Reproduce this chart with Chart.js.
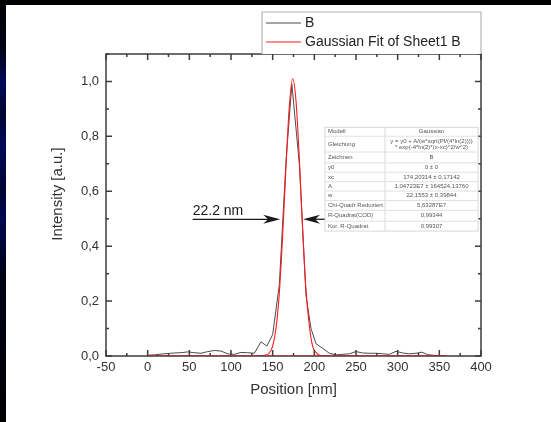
<!DOCTYPE html>
<html><head><meta charset="utf-8">
<script src="https://cdn.jsdelivr.net/npm/chart.js@4.4.1/dist/chart.umd.min.js"></script>
<style>html,body{margin:0;padding:0;background:#000;}canvas{display:block;}</style>
</head><body>
<canvas id="c" width="551" height="422"></canvas>
<script>
// ---- data ----
const seriesBName = 'B';
const seriesBX = [0, 8, 16, 24, 32, 40, 48, 56, 64, 72, 80, 88, 96, 104, 112, 120, 128, 136, 143, 150, 158, 166, 173, 182, 190, 196, 202, 210, 218, 226, 234, 242, 250, 258, 266, 274, 282, 290, 298, 306, 314, 322, 329, 336, 344, 352, 358];
const seriesBY = [0.003, 0.004, 0.007, 0.009, 0.011, 0.012, 0.015, 0.012, 0.010, 0.016, 0.020, 0.018, 0.008, 0.006, 0.013, 0.012, 0.010, 0.052, 0.036, 0.078, 0.26, 0.71, 0.99, 0.70, 0.22, 0.10, 0.045, 0.028, 0.010, 0.004, 0.006, 0.008, 0.016, 0.011, 0.010, 0.010, 0.008, 0.006, 0.017, 0.011, 0.008, 0.010, 0.014, 0.005, 0.002, 0.001, 0.0];

const fitName = 'Gaussian Fit of Sheet1 B';
const fitX = [0, 100, 130, 140, 146, 150, 154, 158, 162, 166, 170, 174, 178, 182, 186, 190, 194, 198, 202, 206, 212, 230, 300, 358];
const fitY = [0, 0, 0, 0.003, 0.011, 0.036, 0.10, 0.23, 0.44, 0.69, 0.91, 1.01, 0.93, 0.72, 0.46, 0.24, 0.11, 0.035, 0.013, 0.003, 0, 0, 0, 0];

const xTickValues = [-50, 0, 50, 100, 150, 200, 250, 300, 350, 400];
const xTickLabels = ['-50', '0', '50', '100', '150', '200', '250', '300', '350', '400'];
const yTickValues = [0, 0.2, 0.4, 0.6, 0.8, 1.0];
const yTickLabels = ['0,0', '0,2', '0,4', '0,6', '0,8', '1,0'];
const xTitle = 'Position [nm]';
const yTitle = 'Intensity [a.u.]';

const fwhmLabel = '22.2 nm';
const fitTableNames = ['Modell', 'Gleichung', 'Zeichnen', 'y0', 'xc', 'A', 'w', 'Chi-Quadr Reduziert', 'R-Quadrat(COD)', 'Kor. R-Quadrat'];
const fitTableValues = [['Gaussian'], ['y = y0 + A/(w*sqrt(PI/(4*ln(2))))', '* exp(-4*ln(2)*(x-xc)^2/w^2)'], ['B'], ['0 \u00b1 0'], ['174,20314 \u00b1 0,17142'], ['1,04723E7 \u00b1 164524,13760'], ['22,1553 \u00b1 0,39844'], ['5,63287E7'], ['0,99344'], ['0,99307']];

// ---- layout / style constants ----
const FONT = "'Liberation Sans', Arial, sans-serif";
const AXIS_COLOR = '#3c3c3c';
const annot = { textX: 54, textY: 0.528, leftTail: 54, leftTip: 159, rightTip: 186.5, rightTail: 215, y: 0.498 };
const tableBox = { x0: 212.8, x1: 396.4, xSplit: 284.8, y0: 0.833, y1: 0.455 };
const rowWeights = [9, 16, 11, 9.5, 9.5, 9.5, 9.5, 10, 11, 10];

function arrow(ctx, xTail, xTip, y) {
  const dir = xTip > xTail ? 1 : -1;
  ctx.beginPath();
  ctx.moveTo(xTail, y);
  ctx.lineTo(xTip - dir * 10, y);
  ctx.stroke();
  ctx.beginPath();
  ctx.moveTo(xTip, y);
  ctx.lineTo(xTip - dir * 17, y - 4.5);
  ctx.lineTo(xTip - dir * 12, y);
  ctx.lineTo(xTip - dir * 17, y + 4.5);
  ctx.closePath();
  ctx.fill();
}

const deco = {
  id: 'deco',
  beforeDraw(chart) {
    const ctx = chart.ctx;
    ctx.save();
    ctx.fillStyle = '#000';
    ctx.fillRect(0, 0, chart.width, chart.height);
    const g = ctx.createLinearGradient(0, 0, 0, chart.height);
    g.addColorStop(0, '#000');
    g.addColorStop(0.12, '#000318');
    g.addColorStop(0.2, '#000a5c');
    g.addColorStop(0.27, '#00062e');
    g.addColorStop(0.34, '#000a5a');
    g.addColorStop(0.45, '#000533');
    g.addColorStop(0.52, '#000850');
    g.addColorStop(0.65, '#000218');
    g.addColorStop(1, '#000');
    ctx.fillStyle = g;
    ctx.fillRect(0, 0, 6, chart.height);
    ctx.fillStyle = '#fff';
    ctx.fillRect(6, 5, chart.width - 6, chart.height - 5);
    ctx.restore();
  },
  afterDraw(chart) {
    const ctx = chart.ctx;
    const a = chart.chartArea;
    const xs = chart.scales.x, ys = chart.scales.y;
    ctx.save();
    // frame
    ctx.strokeStyle = AXIS_COLOR;
    ctx.lineWidth = 1.5;
    ctx.strokeRect(a.left, a.top, a.right - a.left, a.bottom - a.top);
    // inward ticks
    ctx.beginPath();
    xs.ticks.forEach((t, i) => {
      const p = xs.getPixelForValue(t.value);
      ctx.moveTo(p, a.bottom); ctx.lineTo(p, a.bottom - 6);
      ctx.moveTo(p, a.top); ctx.lineTo(p, a.top + 6);
      if (i < xs.ticks.length - 1) {
        const m = xs.getPixelForValue((t.value + xs.ticks[i + 1].value) / 2);
        ctx.moveTo(m, a.bottom); ctx.lineTo(m, a.bottom - 3);
        ctx.moveTo(m, a.top); ctx.lineTo(m, a.top + 3);
      }
    });
    const yMinor = [];
    ys.ticks.forEach((t, i) => {
      const p = ys.getPixelForValue(t.value);
      ctx.moveTo(a.left, p); ctx.lineTo(a.left + 6, p);
      ctx.moveTo(a.right, p); ctx.lineTo(a.right - 6, p);
      const step = i < ys.ticks.length - 1 ? ys.ticks[i + 1].value - t.value : ys.ticks[1].value - ys.ticks[0].value;
      const mv = t.value + step / 2;
      if (mv <= ys.max) yMinor.push(mv);
    });
    yMinor.forEach(v => {
      const p = ys.getPixelForValue(v);
      ctx.moveTo(a.left, p); ctx.lineTo(a.left + 3, p);
      ctx.moveTo(a.right, p); ctx.lineTo(a.right - 3, p);
    });
    ctx.stroke();

    // red fit baseline tint over the axis (as in the original)
    ctx.strokeStyle = 'rgba(220,30,30,0.45)';
    ctx.lineWidth = 1;
    ctx.beginPath();
    ctx.moveTo(xs.getPixelForValue(fitX[0]), a.bottom - 0.5);
    ctx.lineTo(xs.getPixelForValue(fitX[fitX.length - 1]), a.bottom - 0.5);
    ctx.stroke();

    // y title
    ctx.save();
    ctx.translate(58, 194);
    ctx.rotate(-Math.PI / 2);
    ctx.fillStyle = '#333';
    ctx.font = '15px ' + FONT;
    ctx.textAlign = 'center';
    ctx.textBaseline = 'middle';
    ctx.fillText(yTitle, 0, 0);
    ctx.restore();

    // legend box
    const ds = chart.data.datasets;
    const lgL = 262, lgT = 12, lgR = a.right, lgB = a.top;
    ctx.fillStyle = '#fff';
    ctx.fillRect(lgL, lgT, lgR - lgL, lgB - lgT);
    ctx.strokeStyle = '#b5b5b5';
    ctx.lineWidth = 1.2;
    ctx.beginPath();
    ctx.moveTo(lgL, lgB); ctx.lineTo(lgL, lgT); ctx.lineTo(lgR, lgT); ctx.lineTo(lgR, lgB);
    ctx.stroke();
    const legendOrder = [1, 0];
    ctx.font = '14px ' + FONT;
    ctx.textBaseline = 'middle';
    ctx.textAlign = 'left';
    legendOrder.forEach((di, k) => {
      const yy = 23 + k * 19;
      ctx.strokeStyle = ds[di].borderColor;
      ctx.lineWidth = 1;
      ctx.beginPath(); ctx.moveTo(266, yy); ctx.lineTo(301, yy); ctx.stroke();
      ctx.fillStyle = '#222';
      ctx.fillText(ds[di].label, 305, yy);
    });

    // FWHM annotation
    ctx.fillStyle = '#1a1a1a';
    ctx.strokeStyle = '#1a1a1a';
    ctx.lineWidth = 1.3;
    ctx.font = '14px ' + FONT;
    ctx.textAlign = 'left';
    ctx.textBaseline = 'middle';
    ctx.fillText(fwhmLabel, xs.getPixelForValue(annot.textX), ys.getPixelForValue(annot.textY));
    const ay = ys.getPixelForValue(annot.y);
    arrow(ctx, xs.getPixelForValue(annot.leftTail), xs.getPixelForValue(annot.leftTip), ay);
    arrow(ctx, xs.getPixelForValue(annot.rightTail), xs.getPixelForValue(annot.rightTip), ay);

    // fit table
    const tx0 = xs.getPixelForValue(tableBox.x0), tx1 = xs.getPixelForValue(tableBox.x1);
    const tsp = xs.getPixelForValue(tableBox.xSplit);
    const ty0 = ys.getPixelForValue(tableBox.y0), ty1 = ys.getPixelForValue(tableBox.y1);
    const totalW = rowWeights.reduce((s, v) => s + v, 0);
    ctx.fillStyle = '#fff';
    ctx.fillRect(tx0, ty0, tx1 - tx0, ty1 - ty0);
    ctx.strokeStyle = '#d8d8d8';
    ctx.lineWidth = 1;
    ctx.strokeRect(tx0, ty0, tx1 - tx0, ty1 - ty0);
    ctx.beginPath(); ctx.moveTo(tsp, ty0); ctx.lineTo(tsp, ty1); ctx.stroke();
    let yc = ty0;
    ctx.font = '6px ' + FONT;
    fitTableNames.forEach((name, i) => {
      const h = (ty1 - ty0) * rowWeights[i] / totalW;
      if (i > 0) { ctx.strokeStyle = '#e0e0e0'; ctx.beginPath(); ctx.moveTo(tx0, yc); ctx.lineTo(tx1, yc); ctx.stroke(); }
      ctx.fillStyle = '#555';
      ctx.textAlign = 'left';
      ctx.fillText(name, tx0 + 3, yc + h / 2);
      const vals = fitTableValues[i];
      ctx.textAlign = 'center';
      vals.forEach((v, j) => {
        const off = (j - (vals.length - 1) / 2) * 6.5;
        ctx.fillText(v, (tsp + tx1) / 2, yc + h / 2 + off);
      });
      yc += h;
    });
    ctx.restore();
  }
};

new Chart(document.getElementById('c'), {
  type: 'line',
  data: {
    datasets: [
      {
        label: fitName,
        data: fitX.map((x, i) => ({ x: x, y: fitY[i] })),
        borderColor: '#ff1a1a',
        borderWidth: 1.1,
        pointRadius: 0,
        cubicInterpolationMode: 'monotone',
        fill: false,
        order: 0
      },
      {
        label: seriesBName,
        data: seriesBX.map((x, i) => ({ x: x, y: seriesBY[i] })),
        borderColor: '#4a4a4a',
        borderWidth: 1,
        pointRadius: 0,
        tension: 0,
        fill: false,
        order: 1
      }
    ]
  },
  options: {
    responsive: false,
    animation: false,
    devicePixelRatio: 1,
    layout: { padding: { left: 0, right: 70, top: 54, bottom: 0 } },
    plugins: { legend: { display: false }, tooltip: { enabled: false } },
    scales: {
      x: {
        type: 'linear', min: -50, max: 400,
        afterBuildTicks: s => { s.ticks = xTickValues.map(v => ({ value: v })); },
        afterFit: s => { s.height = 66; },
        grid: { display: false, drawTicks: false },
        border: { display: false },
        ticks: {
          padding: 4, color: '#333', maxRotation: 0, autoSkip: false,
          font: { family: FONT, size: 13 },
          callback: v => xTickLabels[xTickValues.indexOf(v)]
        },
        title: { display: true, text: xTitle, color: '#333', font: { family: FONT, size: 15 }, padding: { top: 0, bottom: 23 } }
      },
      y: {
        type: 'linear', min: 0, max: 1.1,
        afterBuildTicks: s => { s.ticks = yTickValues.map(v => ({ value: v })); },
        afterFit: s => { s.width = 106; },
        grid: { display: false, drawTicks: false },
        border: { display: false },
        ticks: {
          padding: 7, color: '#333', autoSkip: false,
          font: { family: FONT, size: 13 },
          callback: (v, i) => yTickLabels[i]
        }
      }
    }
  },
  plugins: [deco]
});
</script>
</body></html>
